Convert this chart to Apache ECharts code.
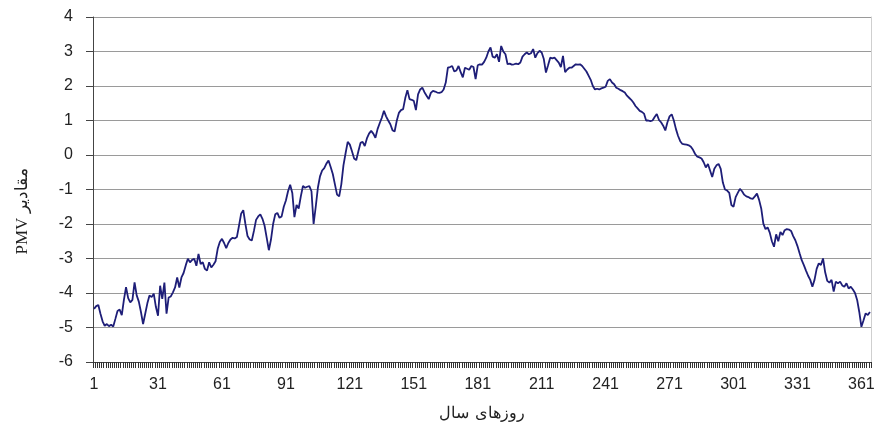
<!DOCTYPE html>
<html>
<head>
<meta charset="utf-8">
<script src="https://cdn.jsdelivr.net/npm/echarts@6/dist/echarts.min.js"></script>
<style>
html,body{margin:0;padding:0;background:#fff;}
#c{width:885px;height:445px;}
</style>
</head>
<body>
<div id="c"></div>
<script>
// Daily PMV values, month by month
const jan = [-4.46,-4.38,-4.35,-4.60,-4.82,-4.95,-4.90,-4.96,-4.92,-4.97,-4.75,-4.52,-4.48,-4.64,-4.20,-3.83,-4.15,-4.27,-4.20,-3.69,-4.07,-4.25,-4.55,-4.90,-4.60,-4.30,-4.07,-4.12,-4.02,-4.40,-4.66];
const feb = [-3.79,-4.17,-3.70,-4.60,-4.13,-4.10,-3.98,-3.84,-3.55,-3.84,-3.55,-3.42,-3.20,-3.01,-3.11,-3.04,-3.01,-3.21,-2.87,-3.16,-3.11,-3.30,-3.35,-3.11,-3.26,-3.18,-3.08,-2.72];
const mar = [-2.52,-2.43,-2.55,-2.70,-2.55,-2.45,-2.40,-2.42,-2.38,-2.05,-1.70,-1.60,-2.00,-2.35,-2.45,-2.48,-2.20,-1.88,-1.78,-1.72,-1.85,-2.05,-2.40,-2.76,-2.45,-2.00,-1.72,-1.68,-1.82,-1.78,-1.50];
const apr = [-1.32,-1.05,-0.86,-1.10,-1.80,-1.45,-1.55,-1.20,-0.90,-0.95,-0.92,-0.90,-1.05,-2.00,-1.50,-0.95,-0.62,-0.45,-0.38,-0.25,-0.16,-0.35,-0.55,-0.85,-1.15,-1.20,-0.85,-0.30,0.05,0.38];
const may = [0.30,0.11,-0.10,-0.15,0.11,0.35,0.38,0.26,0.48,0.62,0.70,0.62,0.50,0.75,0.92,1.08,1.28,1.12,1.00,0.89,0.72,0.68,0.99,1.22,1.30,1.33,1.65,1.88,1.62,1.60,1.57];
const jun = [1.30,1.76,1.90,1.95,1.82,1.72,1.62,1.80,1.86,1.84,1.81,1.80,1.82,1.90,2.10,2.53,2.55,2.58,2.42,2.45,2.58,2.40,2.25,2.53,2.50,2.47,2.58,2.55,2.20,2.60];
const jul = [2.63,2.62,2.70,2.82,3.00,3.12,2.85,2.82,2.92,2.70,3.16,3.00,2.92,2.63,2.65,2.62,2.63,2.65,2.63,2.68,2.85,2.92,2.97,2.92,2.95,3.07,2.82,2.95,3.02,2.97,2.78];
const aug = [2.39,2.60,2.82,2.80,2.82,2.75,2.68,2.55,2.87,2.40,2.48,2.53,2.53,2.58,2.63,2.62,2.63,2.58,2.50,2.42,2.30,2.18,2.00,1.90,1.92,1.90,1.93,1.95,1.98,2.15,2.20];
const sep = [2.10,2.05,1.95,1.92,1.88,1.85,1.81,1.72,1.66,1.60,1.52,1.42,1.35,1.28,1.25,1.20,1.00,1.00,0.98,1.00,1.10,1.19,1.02,0.95,0.85,0.71,0.95,1.12,1.18,1.00];
const oct = [0.75,0.55,0.40,0.32,0.31,0.30,0.28,0.24,0.15,0.03,-0.05,-0.07,-0.10,-0.21,-0.36,-0.26,-0.45,-0.64,-0.40,-0.30,-0.26,-0.40,-0.80,-1.00,-1.03,-1.10,-1.45,-1.50,-1.22,-1.10,-0.98];
const nov = [-1.05,-1.15,-1.20,-1.22,-1.26,-1.27,-1.20,-1.12,-1.30,-1.55,-1.99,-2.15,-2.10,-2.25,-2.50,-2.66,-2.30,-2.50,-2.23,-2.32,-2.18,-2.15,-2.16,-2.20,-2.35,-2.47,-2.64,-2.85,-3.05,-3.19];
const dec = [-3.35,-3.50,-3.62,-3.82,-3.62,-3.30,-3.14,-3.19,-3.00,-3.40,-3.65,-3.70,-3.62,-3.96,-3.67,-3.72,-3.67,-3.78,-3.82,-3.72,-3.87,-3.82,-3.90,-4.00,-4.20,-4.55,-4.98,-4.79,-4.59,-4.64,-4.55];

const pmv = [].concat(jan, feb, mar, apr, may, jun, jul, aug, sep, oct, nov, dec);
const days = pmv.map((v, i) => String(i + 1));
const yMin = -6, yMax = 4, yStep = 1;
const xName = 'روزهای سال';
const yName = 'PMV مقادیر';

const chart = echarts.init(document.getElementById('c'), null, {renderer: 'canvas'});
chart.setOption({
  animation: false,
  backgroundColor: '#ffffff',
  grid: {left: 93, right: 14, top: 17, bottom: 83, show: false},
  xAxis: [{
    type: 'category',
    data: days,
    boundaryGap: true,
    position: 'bottom',
    name: xName,
    nameLocation: 'middle',
    nameGap: 44,
    nameTextStyle: {fontFamily: 'DejaVu Serif, Liberation Serif, serif', fontSize: 16, color: '#222'},
    axisLine: {show: true, onZero: false, lineStyle: {color: '#444', width: 1}},
    axisTick: {show: true, inside: false, alignWithLabel: false, interval: 0, length: 6, lineStyle: {color: '#333', width: 1}},
    axisLabel: {interval: 29, margin: 15, fontFamily: 'Liberation Sans, Arial, sans-serif', fontSize: 16, color: '#222'},
    splitLine: {show: false}
  }],
  yAxis: [{
    type: 'value',
    min: yMin, max: yMax, interval: yStep,
    name: yName,
    nameLocation: 'middle',
    nameRotate: 90,
    nameGap: 62,
    nameTextStyle: {fontFamily: 'Liberation Serif, DejaVu Serif, serif', fontSize: 17, color: '#222', padding: [0, 44, 0, 0]},
    axisLine: {show: true, lineStyle: {color: '#444', width: 1}},
    axisTick: {show: true, inside: false, length: 7, lineStyle: {color: '#444'}},
    axisLabel: {margin: 20, fontFamily: 'Liberation Sans, Arial, sans-serif', fontSize: 16, color: '#222'},
    splitLine: {show: true, lineStyle: {color: '#9a9a9a', width: 1}}
  }, {
    type: 'value',
    position: 'right',
    min: yMin, max: yMax, interval: yStep,
    axisLine: {show: true, lineStyle: {color: '#cfcfcf', width: 1}},
    axisTick: {show: false},
    axisLabel: {show: false},
    splitLine: {show: false}
  }],
  series: [{
    type: 'line',
    data: pmv,
    symbol: 'none',
    smooth: false,
    lineStyle: {color: '#1e1e78', width: 1.8}
  }]
});
</script>
</body>
</html>
